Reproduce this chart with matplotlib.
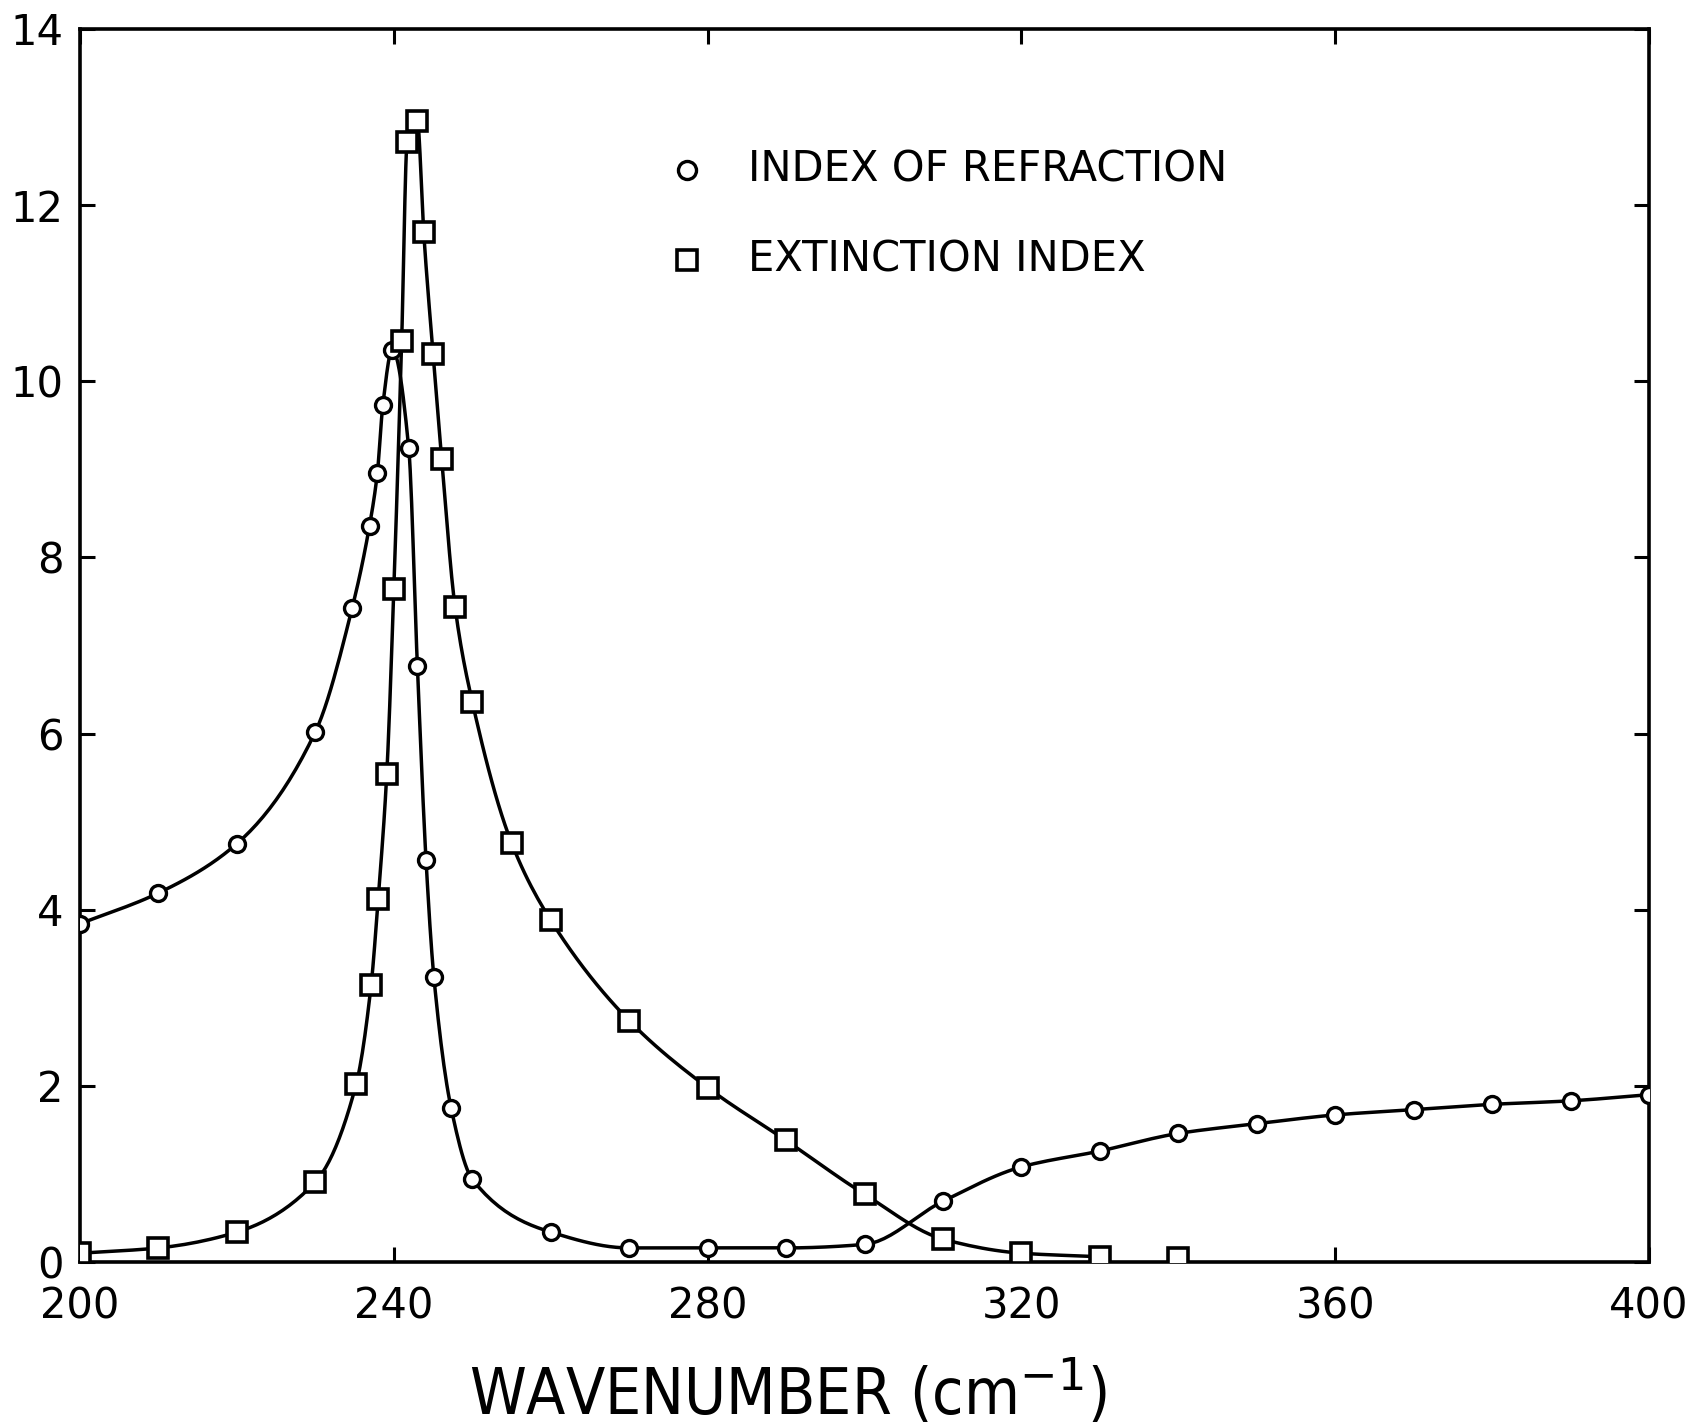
import numpy as np
import matplotlib
matplotlib.use("Agg")
import matplotlib.pyplot as plt

# ---- data ----
n_x = [200, 210, 220, 230, 234.7, 236.9, 237.9, 238.6, 239.8, 241.9, 243.0, 244.1,
       245.1, 247.3, 250, 260, 270, 280, 290, 300, 310, 320, 330, 340, 350, 360,
       370, 380, 390, 400]
n_y = [3.84, 4.19, 4.75, 6.02, 7.43, 8.36, 8.96, 9.73, 10.36, 9.24, 6.77, 4.57,
       3.24, 1.75, 0.94, 0.34, 0.16, 0.16, 0.16, 0.20, 0.69, 1.08, 1.26, 1.46, 1.57,
       1.67, 1.73, 1.79, 1.83, 1.90]

k_x = [200, 210, 220, 230, 235.2, 237.1, 238.0, 239.1, 240.0, 241.0, 241.7, 243.0,
       243.8, 245.0, 246.1, 247.8, 250, 255, 260, 270, 280, 290, 300, 310, 320, 330, 340]
k_y = [0.10, 0.16, 0.34, 0.91, 2.02, 3.14, 4.12, 5.54, 7.64, 10.46, 12.72, 12.95,
       11.70, 10.31, 9.12, 7.44, 6.36, 4.76, 3.88, 2.74, 1.98, 1.38, 0.77, 0.26, 0.10,
       0.06, 0.04]
k_line_end = 26  # the drawn curve stops after the 330 point

x_ticks = [200, 240, 280, 320, 360, 400]
y_ticks = [0, 2, 4, 6, 8, 10, 12, 14]
legend_labels = ["INDEX OF REFRACTION", "EXTINCTION INDEX"]
x_label = r"WAVENUMBER (cm$^{-1}$)"


def pchip_curve(x, y, per=12):
    """Monotone cubic (Fritsch-Carlson) curve through the data for drawing."""
    x = np.asarray(x, float)
    y = np.asarray(y, float)
    h = np.diff(x)
    d = np.diff(y) / h
    m = np.zeros_like(y)
    for i in range(1, len(y) - 1):
        if d[i - 1] * d[i] <= 0:
            m[i] = 0.0
        else:
            w1 = 2 * h[i] + h[i - 1]
            w2 = h[i] + 2 * h[i - 1]
            m[i] = (w1 + w2) / (w1 / d[i - 1] + w2 / d[i])
    m[0] = d[0]
    m[-1] = d[-1]
    xs, ys = [], []
    for i in range(len(h)):
        t = np.linspace(0, 1, per, endpoint=False)
        h00 = 2 * t**3 - 3 * t**2 + 1
        h10 = t**3 - 2 * t**2 + t
        h01 = -2 * t**3 + 3 * t**2
        h11 = t**3 - t**2
        xs.append(x[i] + t * h[i])
        ys.append(h00 * y[i] + h10 * h[i] * m[i] + h01 * y[i + 1] + h11 * h[i] * m[i + 1])
    xs.append([x[-1]])
    ys.append([y[-1]])
    return np.concatenate(xs), np.concatenate(ys)


plt.rcParams['font.family'] = ['DejaVu Sans']
fig = plt.figure(figsize=(16.92, 14.26), dpi=100)
ax = fig.add_axes([0.0473, 0.115, 0.9273, 0.8647])

lw = 2.5
cx, cy = pchip_curve(n_x, n_y)
ax.plot(cx, cy, color='black', lw=lw, zorder=2)
kx, ky = pchip_curve(k_x[:k_line_end], k_y[:k_line_end])
ax.plot(kx, ky, color='black', lw=lw, zorder=2)

c_ms, s_ms = 11.5, 14
ax.plot(n_x, n_y, linestyle='none', marker='o', ms=c_ms, mfc='white', mec='black',
        mew=2.4, zorder=3)
ax.plot(k_x, k_y, linestyle='none', marker='s', ms=s_ms, mfc='white', mec='black',
        mew=2.6, zorder=3)

ax.set_xlim(200, 400)
ax.set_ylim(0, 14)
ax.set_xticks(x_ticks)
ax.set_yticks(y_ticks)
ax.set_xticklabels([str(v) for v in x_ticks])
ax.set_yticklabels([str(v) for v in y_ticks])
ax.tick_params(direction='in', length=11, width=2.2, top=True, right=True,
               labelsize=30)
ax.tick_params(axis='x', pad=17)
ax.tick_params(axis='y', pad=12)
for s in ax.spines.values():
    s.set_linewidth(2.6)

# legend (drawn as marker + text)
ax.plot([0.387], [0.886], transform=ax.transAxes, marker='o', ms=13, mfc='white',
        mec='black', mew=2.4, linestyle='none', clip_on=False)
ax.plot([0.387], [0.813], transform=ax.transAxes, marker='s', ms=15, mfc='white',
        mec='black', mew=2.6, linestyle='none', clip_on=False)
ax.text(0.4257, 0.886, legend_labels[0], transform=ax.transAxes, fontsize=30,
        va='center', ha='left')
ax.text(0.4257, 0.813, legend_labels[1], transform=ax.transAxes, fontsize=30,
        va='center', ha='left')

fig.text(0.466, 0.008, x_label, ha='center', va='baseline', fontsize=46,
         fontstretch='condensed')

fig.savefig("out.png", dpi=100)
